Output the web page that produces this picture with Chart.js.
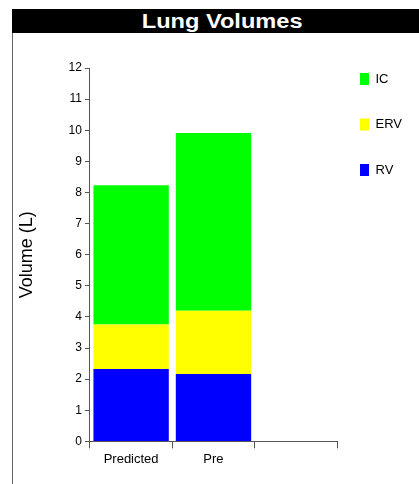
<!DOCTYPE html>
<html>
<head>
<meta charset="utf-8">
<script src="https://cdn.jsdelivr.net/npm/chart.js@4.4.1/dist/chart.umd.min.js"></script>
<style>
  html, body { margin: 0; padding: 0; background: #fff; }
  body { width: 419px; height: 484px; position: relative; overflow: hidden; font-family: Arial, "Liberation Sans", sans-serif; }
  #titleBar {
    position: absolute; left: 12px; top: 9px; width: 407px; height: 24px;
    background: #000; color: #fff; text-align: center;
    font-weight: bold; font-size: 20px; line-height: 24px;
  }
  #titleBar span { display: inline-block; transform: scaleX(1.18); margin-left: 14px; }
  #frame {
    position: absolute; left: 12px; top: 33px; width: 406px; height: 451px;
    border-left: 1px solid #666;
  }
  #chart { display: block; }
</style>
</head>
<body>
<div id="titleBar"><span>Lung Volumes</span></div>
<div id="frame"><canvas id="chart" width="406" height="451"></canvas></div>
<script>
// categories (third slot is empty on the original)
const categories = ['Predicted', 'Pre', ''];

// stacked volumes in litres, bottom to top
const rvValues = [2.33, 2.17, null];
const ervValues = [1.43, 2.03, null];
const icValues = [4.47, 5.71, null];

const yTicks = [0, 1, 2, 3, 4, 5, 6, 7, 8, 9, 10, 11, 12];

const axisColor = '#555';
const fontFamily = 'Arial, "Liberation Sans", sans-serif';

function makeSet(label, data, color) {
  return {
    label: label,
    data: data,
    backgroundColor: color,
    borderWidth: 0,
    categoryPercentage: 1.0,
    barPercentage: 0.915,
  };
}

const ctx = document.getElementById('chart').getContext('2d');

new Chart(ctx, {
  type: 'bar',
  data: {
    labels: categories,
    datasets: [
      makeSet('RV', rvValues, '#0000FF'),
      makeSet('ERV', ervValues, '#FFFF00'),
      makeSet('IC', icValues, '#00FF00'),
    ],
  },
  options: {
    responsive: false,
    animation: false,
    layout: {
      padding: { top: 16.5, right: 7, bottom: 14, left: 0 },
    },
    plugins: {
      title: { display: false },
      tooltip: { enabled: false },
      legend: {
        position: 'right',
        align: 'start',
        reverse: true,
        labels: {
          boxWidth: 9,
          boxHeight: 12,
          padding: 23,
          color: '#000',
          font: { size: 13, family: fontFamily, lineHeight: 22.5 / 13 },
          // array text so the row height follows the font line height
          generateLabels: (chart) => {
            const items = Chart.defaults.plugins.legend.labels.generateLabels(chart);
            items.forEach(it => { it.text = [it.text]; it.lineWidth = 0; });
            return items;
          },
        },
      },
    },
    scales: {
      x: {
        stacked: true,
        offset: true,
        grid: {
          display: true,
          offset: true,
          drawOnChartArea: false,
          drawTicks: true,
          tickLength: 7,
          color: axisColor,
        },
        border: { display: true, color: axisColor, width: 1 },
        ticks: {
          padding: 3,
          color: '#000',
          font: { size: 13, family: fontFamily },
          maxRotation: 0,
        },
      },
      x2: {
        type: 'category',
        position: 'top',
        grid: { display: false },
        border: { display: false },
        ticks: { display: false },
        afterFit: (scale) => { scale.height = 18.5; },
      },
      y: {
        stacked: true,
        min: 0,
        max: 12,
        afterBuildTicks: (scale) => { scale.ticks = yTicks.map(v => ({ value: v })); },
        grid: {
          display: true,
          drawOnChartArea: false,
          drawTicks: true,
          tickLength: 5,
          color: axisColor,
        },
        border: { display: true, color: axisColor, width: 1 },
        ticks: {
          padding: 3,
          color: '#000',
          font: { size: 12, family: fontFamily },
        },
        title: {
          display: true,
          text: 'Volume (L)',
          color: '#000',
          font: { size: 18, family: fontFamily },
          padding: { top: 3, bottom: 28 },
        },
      },
    },
  },
});
</script>
</body>
</html>
